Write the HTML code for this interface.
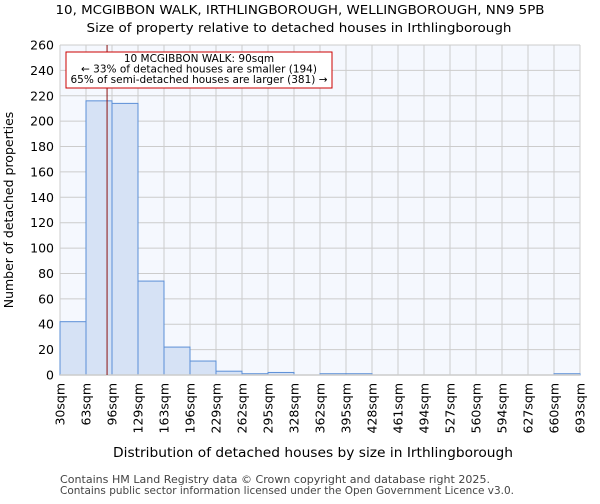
<!DOCTYPE html>
<html><head><meta charset="utf-8"><style>
body{margin:0;background:#fff;font-family:"DejaVu Sans","Liberation Sans",sans-serif;}
</style></head><body>
<svg id="c" width="600" height="500" xmlns="http://www.w3.org/2000/svg" font-family="DejaVu Sans, Liberation Sans, sans-serif">
<text x="300" y="14" text-anchor="middle" font-size="12.5" textLength="489" lengthAdjust="spacingAndGlyphs">10, MCGIBBON WALK, IRTHLINGBOROUGH, WELLINGBOROUGH, NN9 5PB</text>
<text x="299" y="32" text-anchor="middle" font-size="12.5" textLength="425" lengthAdjust="spacingAndGlyphs">Size of property relative to detached houses in Irthlingborough</text>
<rect x="60" y="45" width="520" height="330" fill="#f5f8fe"/>
<g id="grid"></g><g id="bars"></g><g id="axes"></g>
<text x="313" y="457" text-anchor="middle" font-size="13" textLength="400" lengthAdjust="spacingAndGlyphs">Distribution of detached houses by size in Irthlingborough</text>
<text transform="translate(13,210) rotate(-90)" text-anchor="middle" font-size="12.5">Number of detached properties</text>
<text x="60" y="483" font-size="10.5" fill="#444" textLength="430" lengthAdjust="spacingAndGlyphs">Contains HM Land Registry data © Crown copyright and database right 2025.</text>
<text x="60" y="494" font-size="10.5" fill="#444" textLength="454" lengthAdjust="spacingAndGlyphs">Contains public sector information licensed under the Open Government Licence v3.0.</text>
</svg>
<script>
const binLabels=["30sqm","63sqm","96sqm","129sqm","163sqm","196sqm","229sqm","262sqm","295sqm","328sqm","362sqm","395sqm","428sqm","461sqm","494sqm","527sqm","560sqm","594sqm","627sqm","660sqm","693sqm"];
const counts=[42,216,214,74,22,11,3,1,2,0,1,1,0,0,0,0,0,0,0,1];
const yTicks=[0,20,40,60,80,100,120,140,160,180,200,220,240,260];
const subjectSize=90;
const NS="http://www.w3.org/2000/svg";
const X0=60,X1=580,Y0=375,Y1=45,yMax=260,xMin=30,xMax=693;
const xs=v=>X0+(v-xMin)/(xMax-xMin)*(X1-X0);
const xi=i=>X0+i*(X1-X0)/counts.length;
const ys=v=>Y0-v/yMax*(Y0-Y1);
function mk(t,a,p){const e=document.createElementNS(NS,t);for(const k in a)e.setAttribute(k,a[k]);p.appendChild(e);return e;}
const g=document.getElementById('grid'),b=document.getElementById('bars'),ax=document.getElementById('axes');
yTicks.forEach(v=>{const l=mk('line',{x1:X0,x2:X1,y1:ys(v),y2:ys(v),stroke:'#ccc'},g);


const t=mk('text',{x:X0-6,y:ys(v)+4.5,'text-anchor':'end','font-size':12.5},ax);t.textContent=v;

});
binLabels.forEach((s,i)=>{const x=xi(i);const l=mk('line',{x1:x,x2:x,y1:Y1,y2:Y0,stroke:'#ccc'},g);


const t=mk('text',{transform:`translate(${x+4.5},${Y0+8}) rotate(-90)`,'text-anchor':'end','font-size':12.5},ax);t.textContent=s;

});
counts.forEach((c,i)=>{if(c<=0)return;const r=mk('rect',{x:xi(i),y:ys(c),width:xi(i+1)-xi(i),height:Y0-ys(c),fill:'#d6e2f5',stroke:'#5b8fd6','stroke-width':1},b);

});
const ax1=mk('line',{x1:X0,x2:X1,y1:Y0,y2:Y0,stroke:'#ccc','stroke-width':1.5},ax);


const rl=mk('line',{x1:xs(subjectSize),x2:xs(subjectSize),y1:Y1,y2:Y0,stroke:'#8b1010','stroke-width':1},ax);


const box=mk('rect',{x:66,y:52,width:266,height:36,fill:'#fff',stroke:'#c00','stroke-width':1},ax);


["10 MCGIBBON WALK: 90sqm","← 33% of detached houses are smaller (194)","65% of semi-detached houses are larger (381) →"].forEach((s,i)=>{
const t=mk('text',{x:199,y:62+i*10.5,'text-anchor':'middle','font-size':10.5},ax);t.textContent=s;

});
</script>
</body></html>
